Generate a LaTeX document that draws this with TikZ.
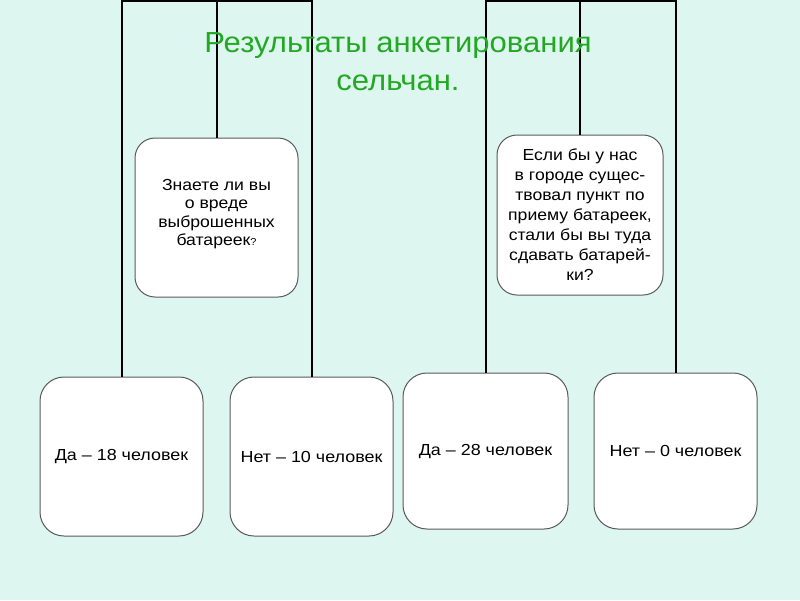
\documentclass[tikz,border=0pt]{standalone}
\usepackage{fontspec}
\setmainfont{Liberation Sans}
\newfontfamily\titlefont[FakeStretch=1.07]{Liberation Sans}
\newfontfamily\qfont[FakeStretch=1.1]{Liberation Sans}
\newfontfamily\afont[FakeStretch=1.12]{Liberation Sans}
\definecolor{bgc}{RGB}{222,246,240}
\definecolor{titlec}{RGB}{34,168,34}
\definecolor{boxline}{RGB}{90,90,90}
\begin{document}
\begin{tikzpicture}[x=1pt,y=-1pt,
  qbox/.style={draw=boxline,line width=1pt,fill=white,rounded corners=20pt,align=center,font=\qfont\fontsize{16}{18.5}\selectfont,inner sep=0pt},
  abox/.style={draw=boxline,line width=1pt,fill=white,rounded corners=24pt,align=center,font=\afont\fontsize{16}{18}\selectfont,inner sep=0pt},
  conn/.style={draw=black,line width=2pt}]
\fill[bgc] (0,0) rectangle (800,600);
\useasboundingbox (0,0) rectangle (800,600);
\coordinate (top) at (0,1);
% boxes
\node[qbox,minimum width=163pt,minimum height=159pt] (q1) at (216.5,217.5) {\\[-14pt]Знаете ли вы\\о вреде\\выброшенных\\батареек{\fontsize{10}{12}\selectfont ?}};
\node[qbox,minimum width=166pt,minimum height=160pt,font=\qfont\fontsize{16}{20}\selectfont] (q2) at (580,215) {Если бы у нас\\в городе сущес-\\твовал пункт по\\приему батареек,\\стали бы вы туда\\сдавать батарей-\\ки?};
\node[abox,minimum width=163pt,minimum height=159pt] (a1) at (121.5,456.5) {Да – 18 человек};
\node[abox,minimum width=163pt,minimum height=159pt] (a2) at (311.5,456.5) {Нет – 10 человек};
\node[abox,minimum width=165pt,minimum height=156pt] (a3) at (485.5,451) {Да – 28 человек};
\node[abox,minimum width=163pt,minimum height=156pt] (a4) at (675.5,451) {Нет – 0 человек};
% connectors
\draw[conn] (a1.north) -- (a1.north |- top) -- (a2.north |- top) -- (a2.north);
\draw[conn] (q1.north) -- (q1.north |- top);
\draw[conn] (a3.north) -- (a3.north |- top) -- (a4.north |- top) -- (a4.north);
\draw[conn] (q2.north) -- (q2.north |- top);
% title
\node[text=titlec,font=\titlefont\fontsize{29}{38}\selectfont,align=center,inner sep=0pt] (title) at (398,62) {Результаты анкетирования\\сельчан.};
\end{tikzpicture}
\end{document}
